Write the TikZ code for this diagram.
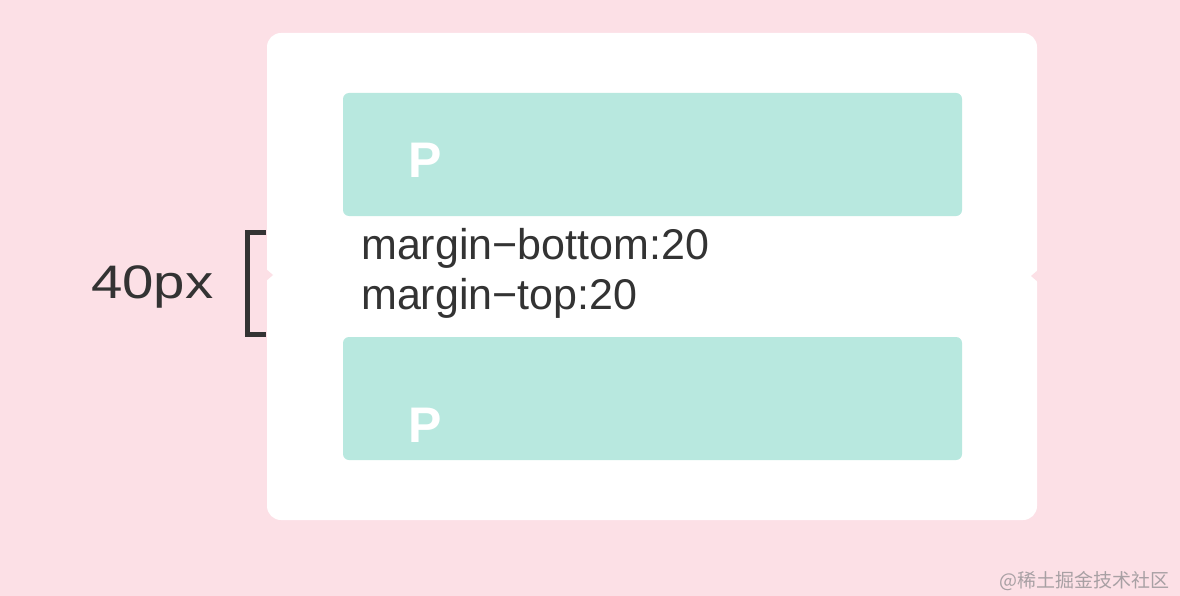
\documentclass[tikz,border=0pt]{standalone}
\usepackage{fontspec}
\usepackage{graphicx}
\setmainfont{Liberation Sans}
\newfontfamily\cjkfont{Noto Sans CJK SC}
\definecolor{bgpink}{HTML}{FCE0E6}
\definecolor{teal}{HTML}{B8E8DF}
\definecolor{ink}{HTML}{333333}
\definecolor{wm}{HTML}{A8A0A4}
\begin{document}
\begin{tikzpicture}[x=1pt,y=-1pt,
  card/.style={fill=white,rounded corners=14pt,draw=none},
  pbox/.style={fill=teal,rounded corners=6pt,draw=none},
  plabel/.style={text=white,font=\fontsize{50}{50}\selectfont\bfseries,anchor=base west,inner sep=0pt},
  mtext/.style={text=ink,font=\fontsize{43}{43}\selectfont,anchor=base west,inner sep=0pt},
  notch/.style={fill=bgpink,draw=none}]
\useasboundingbox (0,0) rectangle (1180,596);
\fill[bgpink] (0,0) rectangle (1180,596);
\fill[card] (267,33) rectangle (1037,520);
\fill[notch] (266,269) -- (273,275) -- (266,281) -- cycle;
\fill[notch] (1038,270) -- (1031,276) -- (1038,282) -- cycle;
\fill[pbox] (343,93) rectangle (962,216);
\fill[pbox] (343,337) rectangle (962,460);
\node[plabel] (p1) at (408,178) {P};
\node[plabel] (p2) at (408,442) {P};
\node[mtext] (mb) at (361,259) {margin−bottom:20};
\node[mtext] (mt) at (361,309) {margin−top:20};
\node[mtext,font=\fontsize{47}{47}\selectfont] (px) at (91,298) {\scalebox{1.2}[1]{40px}};
\coordinate (bt) at (266,232.5);
\coordinate (bb) at (266,334.5);
\draw[ink,line width=4.6pt] (bt) -- (247.5,232.5) -- (247.5,334.5) -- (bb);
\node[text=wm,font=\cjkfont\fontsize{19}{19}\selectfont,anchor=base east,inner sep=0pt] (wmk) at (1170,587) {@稀土掘金技术社区};
\end{tikzpicture}
\end{document}
